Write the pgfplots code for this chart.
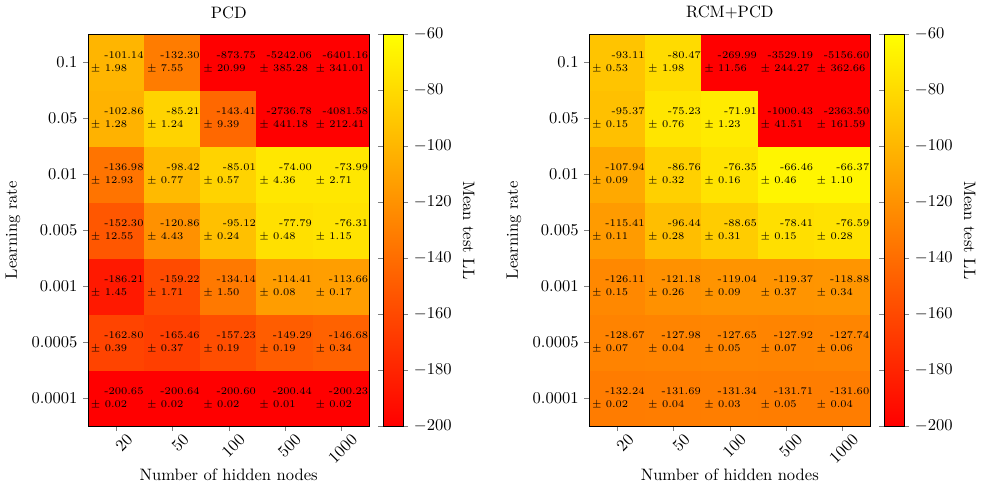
\documentclass[border=0pt]{standalone}
\usepackage{pgfplots}
\usepackage{pgfplotstable}
\pgfplotsset{compat=1.18}

% PCD: x = hidden-node index (20,50,100,500,1000), y = learning-rate index (0.0001 ... 0.1)
\pgfplotstableread{
x y mean std
0 0 -200.65 0.02
1 0 -200.64 0.02
2 0 -200.60 0.02
3 0 -200.44 0.01
4 0 -200.23 0.02
0 1 -162.80 0.39
1 1 -165.46 0.37
2 1 -157.23 0.19
3 1 -149.29 0.19
4 1 -146.68 0.34
0 2 -186.21 1.45
1 2 -159.22 1.71
2 2 -134.14 1.50
3 2 -114.41 0.08
4 2 -113.66 0.17
0 3 -152.30 12.55
1 3 -120.86 4.43
2 3 -95.12 0.24
3 3 -77.79 0.48
4 3 -76.31 1.15
0 4 -136.98 12.93
1 4 -98.42 0.77
2 4 -85.01 0.57
3 4 -74.00 4.36
4 4 -73.99 2.71
0 5 -102.86 1.28
1 5 -85.21 1.24
2 5 -143.41 9.39
3 5 -2736.78 441.18
4 5 -4081.58 212.41
0 6 -101.14 1.98
1 6 -132.30 7.55
2 6 -873.75 20.99
3 6 -5242.06 385.28
4 6 -6401.16 341.01
}\pcdtable

\pgfplotstableread{
x y mean std
0 0 -132.24 0.02
1 0 -131.69 0.04
2 0 -131.34 0.03
3 0 -131.71 0.05
4 0 -131.60 0.04
0 1 -128.67 0.07
1 1 -127.98 0.04
2 1 -127.65 0.05
3 1 -127.92 0.07
4 1 -127.74 0.06
0 2 -126.11 0.15
1 2 -121.18 0.26
2 2 -119.04 0.09
3 2 -119.37 0.37
4 2 -118.88 0.34
0 3 -115.41 0.11
1 3 -96.44 0.28
2 3 -88.65 0.31
3 3 -78.41 0.15
4 3 -76.59 0.28
0 4 -107.94 0.09
1 4 -86.76 0.32
2 4 -76.35 0.16
3 4 -66.46 0.46
4 4 -66.37 1.10
0 5 -95.37 0.15
1 5 -75.23 0.76
2 5 -71.91 1.23
3 5 -1000.43 41.51
4 5 -2363.50 161.59
0 6 -93.11 0.53
1 6 -80.47 1.98
2 6 -269.99 11.56
3 6 -3529.19 244.27
4 6 -5156.60 362.66
}\rcmtable

\pgfplotsset{
  hm/.style={
    scale only axis, width=169.8pt, height=237pt,
    xmin=-0.5, xmax=4.5, ymin=-0.5, ymax=6.5,
    enlargelimits=false,
    axis on top,
    xtick={0,...,4}, xticklabels={20,50,100,500,1000},
    ytick={0,...,6}, yticklabels={0.0001,0.0005,0.001,0.005,0.01,0.05,0.1},
    tick align=outside, xtick pos=bottom, ytick pos=left,
    major tick length=3pt,
    xticklabel style={rotate=45, anchor=north east, inner sep=1pt, xshift=4.5pt, yshift=-3.5pt},
    xlabel={Number of hidden nodes},
    xlabel style={yshift=2pt},
    ylabel={Learning rate},
    colormap={autumn}{rgb255=(255,0,0) rgb255=(255,255,0)},
    point meta min=-200, point meta max=-60,
    colorbar,
    colorbar style={
      width=12pt,
      at={([xshift=12.6pt]parent axis.north east)}, anchor=north west,
      ytick={-200,-180,...,-60},
      tick align=outside, major tick length=3pt,
      ylabel={Mean test LL}, ylabel style={rotate=180},
    },
  },
  meanlbl/.style={draw=none, mark=none, forget plot,
    nodes near coords, point meta=explicit symbolic,
    nodes near coords style={font=\fontsize{6.2}{7}\selectfont, anchor=base east,
      xshift=16.6pt, yshift=2.5pt, inner sep=0pt, text=black}},
  stdlbl/.style={draw=none, mark=none, forget plot,
    nodes near coords={$\pm$ \pgfplotspointmeta}, point meta=explicit symbolic,
    nodes near coords style={font=\fontsize{6.2}{7}\selectfont, anchor=base west,
      xshift=-15.6pt, yshift=-5.6pt, inner sep=0pt, text=black}},
}

\begin{document}
\begin{tikzpicture}
\begin{axis}[hm, name=pcd, title={PCD}]
  \addplot[matrix plot*, mesh/cols=5, point meta=explicit] table[x=x, y=y, meta=mean] {\pcdtable};
  \addplot[meanlbl] table[x=x, y=y, meta=mean] {\pcdtable};
  \addplot[stdlbl] table[x=x, y=y, meta=std] {\pcdtable};
\end{axis}
\begin{axis}[hm, name=rcm, at={(303pt,0pt)}, title={RCM+PCD}]
  \addplot[matrix plot*, mesh/cols=5, point meta=explicit] table[x=x, y=y, meta=mean] {\rcmtable};
  \addplot[meanlbl] table[x=x, y=y, meta=mean] {\rcmtable};
  \addplot[stdlbl] table[x=x, y=y, meta=std] {\rcmtable};
\end{axis}
\path ([xshift=-51pt,yshift=-39.6pt]pcd.south west) rectangle ([xshift=64.8pt,yshift=16.8pt]rcm.north east);
\end{tikzpicture}
\end{document}
